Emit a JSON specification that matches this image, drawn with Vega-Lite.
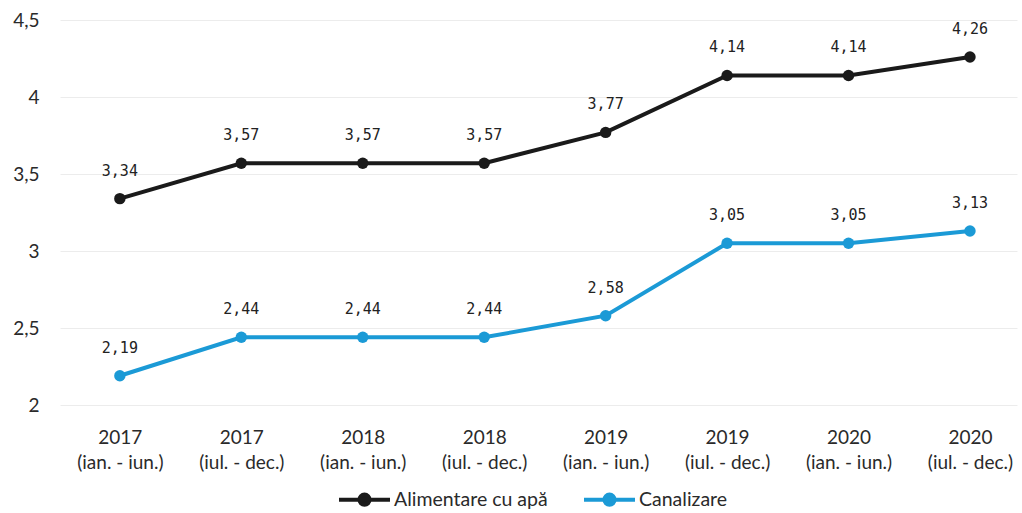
{
  "$schema": "https://vega.github.io/schema/vega-lite/v6.json",
  "autosize": "none",
  "width": 957,
  "height": 385,
  "padding": {"left": 60, "top": 20, "right": 5, "bottom": 108},
  "background": "white",
  "config": {
    "view": {"stroke": null},
    "locale": {"number": {"decimal": ",", "thousands": ".", "grouping": [3], "currency": ["", " lei"]}},
    "font": "Lato"
  },
  "data": {
    "values": [
      {"period": "2017|(ian. - iun.)", "series": "Alimentare cu apă", "value": 3.34},
      {"period": "2017|(iul. - dec.)", "series": "Alimentare cu apă", "value": 3.57},
      {"period": "2018|(ian. - iun.)", "series": "Alimentare cu apă", "value": 3.57},
      {"period": "2018|(iul. - dec.)", "series": "Alimentare cu apă", "value": 3.57},
      {"period": "2019|(ian. - iun.)", "series": "Alimentare cu apă", "value": 3.77},
      {"period": "2019|(iul. - dec.)", "series": "Alimentare cu apă", "value": 4.14},
      {"period": "2020|(ian. - iun.)", "series": "Alimentare cu apă", "value": 4.14},
      {"period": "2020|(iul. - dec.)", "series": "Alimentare cu apă", "value": 4.26},
      {"period": "2017|(ian. - iun.)", "series": "Canalizare", "value": 2.19},
      {"period": "2017|(iul. - dec.)", "series": "Canalizare", "value": 2.44},
      {"period": "2018|(ian. - iun.)", "series": "Canalizare", "value": 2.44},
      {"period": "2018|(iul. - dec.)", "series": "Canalizare", "value": 2.44},
      {"period": "2019|(ian. - iun.)", "series": "Canalizare", "value": 2.58},
      {"period": "2019|(iul. - dec.)", "series": "Canalizare", "value": 3.05},
      {"period": "2020|(ian. - iun.)", "series": "Canalizare", "value": 3.05},
      {"period": "2020|(iul. - dec.)", "series": "Canalizare", "value": 3.13}
    ]
  },
  "encoding": {
    "x": {
      "field": "period", "type": "nominal", "sort": null,
      "scale": {"type": "point", "padding": 0.44, "align": 0.56},
      "axis": {
        "title": null, "domain": false, "ticks": false, "grid": false,
        "labelAngle": 0, "labelExpr": "split(datum.label, '|')",
        "labelFontSize": 19, "labelColor": "#2a2a2a", "labelPadding": 32,
        "labelLineHeight": 25, "labelBaseline": "middle"
      }
    },
    "y": {
      "field": "value", "type": "quantitative",
      "scale": {"domain": [2, 4.5], "nice": false, "zero": false},
      "axis": {
        "title": null, "domain": false, "ticks": false, "values": [2, 2.5, 3, 3.5, 4, 4.5],
        "format": "~g", "labelFontSize": 19, "labelColor": "#2a2a2a", "labelPadding": 21,
        "gridColor": "#ececec", "gridWidth": 1
      }
    },
    "color": {
      "field": "series", "type": "nominal",
      "scale": {"domain": ["Alimentare cu apă", "Canalizare"], "range": ["#1a1a1a", "#1b9ad6"]},
      "legend": {
        "title": null, "orient": "none", "direction": "horizontal",
        "legendX": 277, "legendY": 452,
        "symbolType": "M-1,0L1,0M-0.2,0A0.2,0.2 0 1,1 0.2,0A0.2,0.2 0 1,1 -0.2,0Z",
        "symbolSize": 2600, "symbolStrokeWidth": 4,
        "labelFontSize": 19.5, "labelColor": "#2a2a2a", "labelOffset": 2,
        "columnPadding": 28,
        "encode": {"symbols": {"update": {"fill": {"scale": "color", "field": "value"}, "stroke": {"scale": "color", "field": "value"}}}}
      }
    }
  },
  "layer": [
    {"mark": {"type": "line", "strokeWidth": 4, "point": {"filled": true, "size": 130}}},
    {
      "mark": {"type": "text", "dy": -28, "fontSize": 15, "font": "DejaVu Sans Mono", "color": "#222222"},
      "encoding": {"text": {"field": "value", "type": "quantitative", "format": ".2f"}, "color": {"value": "#222222"}}
    }
  ]
}
